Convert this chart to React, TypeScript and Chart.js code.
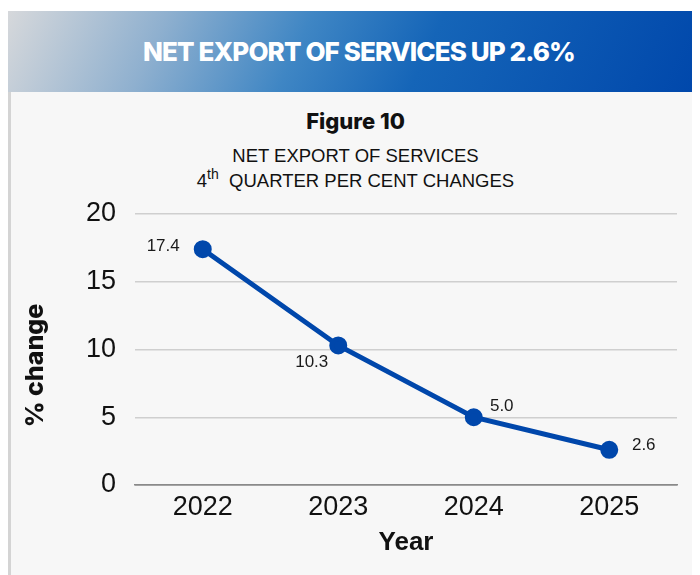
import React, { useEffect, useRef } from "react";
import { Chart, registerables } from "chart.js";

Chart.register(...registerables);

const years: string[] = ["2022", "2023", "2024", "2025"];
const netExportChange: number[] = [17.4, 10.3, 5.0, 2.6];
const yTicks: number[] = [0, 5, 10, 15, 20];

// label placement relative to each point: [dx, dy, textAlign]
const labelOffsets: [number, number, CanvasTextAlign][] = [
  [-23, -3, "right"],
  [-26.5, 17, "center"],
  [28, -11, "center"],
  [34.5, -4, "center"],
];

const BLUE = "#0047ab";

const dataLabelPlugin = {
  id: "dataLabels",
  afterDatasetsDraw(chart: any) {
    const { ctx } = chart;
    const meta = chart.getDatasetMeta(0);
    ctx.save();
    ctx.font = "17px 'Liberation Sans', Arial, sans-serif";
    ctx.fillStyle = "#1a1a1a";
    ctx.textBaseline = "middle";
    meta.data.forEach((pt: any, i: number) => {
      const [dx, dy, align] = labelOffsets[i];
      ctx.textAlign = align;
      ctx.fillText(netExportChange[i].toFixed(1), pt.x + dx, pt.y + dy);
    });
    ctx.restore();
  },
};

const yTitlePlugin = {
  id: "yTitle",
  afterDraw(chart: any) {
    const { ctx, chartArea } = chart;
    ctx.save();
    ctx.translate(24, (chartArea.top + chartArea.bottom) / 2 + 16);
    ctx.rotate(-Math.PI / 2);
    ctx.font = "800 25px Inter, 'Noto Sans', sans-serif";
    ctx.fillStyle = "#111";
    ctx.textAlign = "center";
    ctx.textBaseline = "middle";
    ctx.fillText("% change", 0, 0);
    ctx.restore();
  },
};

export default function App() {
  const ref = useRef<HTMLCanvasElement>(null);

  useEffect(() => {
    if (!ref.current) return;
    const chart = new Chart(ref.current, {
      type: "line",
      data: {
        labels: years,
        datasets: [
          {
            data: netExportChange,
            borderColor: BLUE,
            backgroundColor: BLUE,
            borderWidth: 5,
            pointRadius: 6.5,
            pointBackgroundColor: BLUE,
            pointBorderColor: BLUE,
            tension: 0,
          },
        ],
      },
      options: {
        animation: false,
        responsive: true,
        maintainAspectRatio: false,
        layout: { padding: { top: 24, right: 23, bottom: 0, left: 0 } },
        plugins: {
          legend: { display: false },
          tooltip: { enabled: false },
        },
        scales: {
          x: {
            offset: true,
            grid: { display: false, drawTicks: false },
            border: { display: true, color: "#8a8a8a", width: 1.5 },
            ticks: {
              color: "#111",
              padding: 6,
              font: { family: "'Liberation Sans', Arial, sans-serif", size: 27 },
            },
            title: {
              display: true,
              text: "Year",
              color: "#111",
              font: { family: "'Liberation Sans', Arial, sans-serif", size: 26, weight: "bold" },
              padding: { top: 0, bottom: 17 },
            },
            afterFit: (s: any) => {
              s.height = 90;
              s.paddingLeft = 0;
              s.paddingRight = 0;
            },
          },
          y: {
            min: 0,
            max: 20,
            afterBuildTicks: (s: any) => {
              s.ticks = yTicks.map((v) => ({ value: v }));
            },
            ticks: {
              color: "#111",
              padding: 19,
              font: { family: "'Liberation Sans', Arial, sans-serif", size: 27 },
            },
            grid: {
              color: (c: any) => (c.tick && c.tick.value === 0 ? "#8a8a8a" : "#cfcfcf"),
              lineWidth: 1.5,
              drawTicks: false,
            },
            border: { display: false },
            afterFit: (s: any) => {
              s.width = 124;
              s.paddingTop = 0;
              s.paddingBottom = 0;
            },
          },
        },
      },
      plugins: [dataLabelPlugin, yTitlePlugin],
    });
    return () => chart.destroy();
  }, []);

  return (
    <div style={{ marginTop: 3, width: 692 }}>
      <div
        style={{
          height: 81,
          boxSizing: "border-box",
          paddingLeft: 10,
          background:
            "linear-gradient(115deg, #d6d8db 0%, #8fb0cf 22%, #3f86c4 42%, #1565b8 60%, #0047ab 100%)",
          display: "flex",
          alignItems: "center",
          justifyContent: "center",
          color: "#fff",
          fontFamily: "Inter, 'Noto Sans', sans-serif",
          fontWeight: 800,
          fontSize: 26,
          letterSpacing: -0.9,
        }}
      >
        NET EXPORT OF SERVICES UP 2.6%
      </div>
      <div
        style={{
          position: "relative",
          height: 483,
          boxSizing: "border-box",
          background: "#f7f7f7",
          borderLeft: "3px solid #d4d4d4",
        }}
      >
        <div
          style={{
            position: "absolute",
            top: 16,
            left: 0,
            right: 0,
            textAlign: "center",
            fontFamily: "Inter, 'Noto Sans', sans-serif",
            fontWeight: 800,
            fontSize: 22,
            lineHeight: "26px",
            color: "#111",
          }}
        >
          Figure 10
        </div>
        <div
          style={{
            position: "absolute",
            top: 51,
            left: 0,
            right: 0,
            textAlign: "center",
            fontFamily: "'Liberation Sans', Arial, sans-serif",
            fontSize: 18.5,
            lineHeight: "25px",
            color: "#111",
          }}
        >
          <div>NET EXPORT OF SERVICES</div>
          <div>
            4<span style={{ fontSize: 14, position: "relative", top: -8 }}>th</span>
            &nbsp;&nbsp;QUARTER PER CENT CHANGES
          </div>
        </div>
        <div style={{ position: "absolute", left: 0, top: 98, width: 689, height: 385 }}>
          <canvas ref={ref} />
        </div>
      </div>
    </div>
  );
}
